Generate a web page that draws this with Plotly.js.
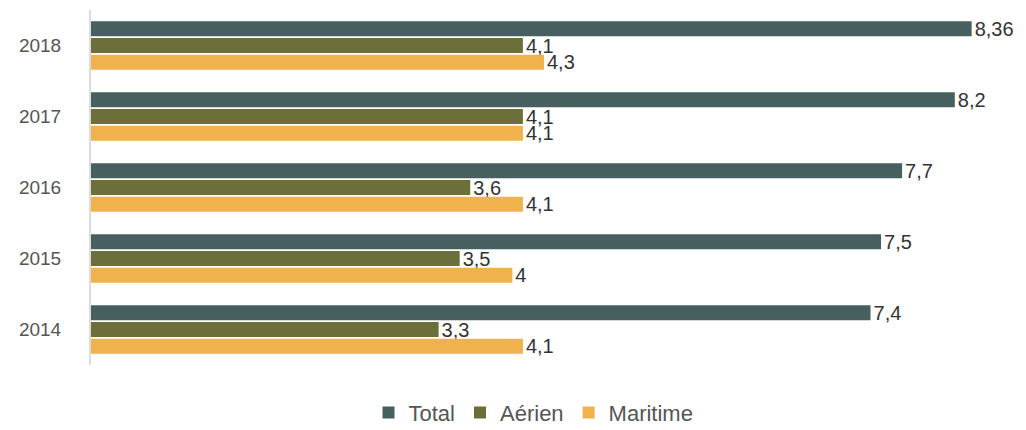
<!DOCTYPE html>
<html>
<head>
<meta charset="utf-8">
<script src="https://cdn.plot.ly/plotly-3.0.1.min.js"></script>
<style>html,body{margin:0;padding:0;background:#fff;}#chart{width:1026px;height:430px;}</style>
</head>
<body>
<div id="chart"></div>
<script>
const years = ['2018', '2017', '2016', '2015', '2014'];
const total = [8.36, 8.2, 7.7, 7.5, 7.4];
const aerien = [4.1, 4.1, 3.6, 3.5, 3.3];
const maritime = [4.3, 4.1, 4.1, 4, 4.1];
const seriesNames = ['Total', 'Aérien', 'Maritime'];
const seriesColors = ['#485f60', '#6c6f3a', '#f0b24d'];

const fmt = v => String(v).replace('.', ',');
const font = 'Liberation Sans, Arial, Helvetica, sans-serif';

const traces = [total, aerien, maritime].map((vals, i) => ({
  type: 'bar',
  orientation: 'h',
  name: seriesNames[i],
  y: years,
  x: vals,
  text: vals.map(fmt),
  textposition: 'outside',
  constraintext: 'none',
  cliponaxis: false,
  textfont: {family: font, size: 20, color: '#333'},
  marker: {color: seriesColors[i]},
  hoverinfo: 'x+name'
}));

const layout = {
  width: 1026,
  height: 430,
  margin: {l: 91, r: 8, t: 10, b: 65},
  paper_bgcolor: '#fff',
  plot_bgcolor: '#fff',
  barmode: 'group',
  bargap: 0.29,
  bargroupgap: 0.1,
  font: {family: font, color: '#555'},
  xaxis: {
    range: [0, 8.8],
    showgrid: false,
    zeroline: false,
    showticklabels: false,
    showline: false,
    fixedrange: true
  },
  yaxis: {
    type: 'category',
    autorange: 'reversed',
    showgrid: false,
    zeroline: false,
    showline: true,
    linecolor: '#dcdcdc',
    linewidth: 2,
    ticks: 'outside',
    ticklen: 24,
    tickcolor: 'rgba(0,0,0,0)',
    tickfont: {family: font, size: 19, color: '#555'},
    fixedrange: true
  },
  showlegend: true,
  legend: {
    orientation: 'h',
    x: 0.52,
    xanchor: 'center',
    xref: 'container',
    yref: 'container',
    y: 0.04,
    yanchor: 'middle',
    font: {family: font, size: 22, color: '#555'},
    itemwidth: 30
  }
};

Plotly.newPlot('chart', traces, layout, {displayModeBar: false, staticPlot: true});
</script>
</body>
</html>
